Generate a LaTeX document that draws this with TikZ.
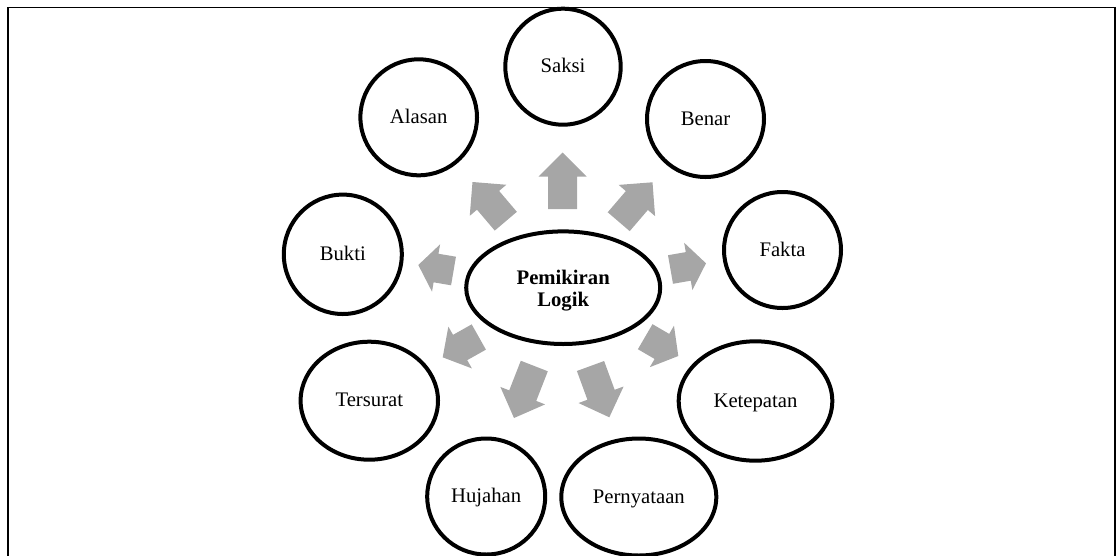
\documentclass[tikz,border=0pt]{standalone}
\usepackage{fontspec}
\setmainfont{Liberation Serif}
\usetikzlibrary{shapes.geometric,calc}

\definecolor{arrowgrey}{RGB}{166,166,166}

% Block arrow from the middle of its tail (#1) to its tip (#2); #3 is the head length.
\newcommand\blockarrow[3]{%
  \coordinate (#2-hb) at ($(#2)!#3!(#1)$);
  \fill[arrowgrey]
    ($(#1)!14.5pt!90:(#2)$) -- ($(#2-hb)!14.5pt!90:(#2)$) --
    ($(#2-hb)!24pt!90:(#2)$) -- (#2) -- ($(#2-hb)!24pt!-90:(#2)$) --
    ($(#2-hb)!14.5pt!-90:(#2)$) -- ($(#1)!14.5pt!-90:(#2)$) -- cycle;}

\tikzset{
  bubble/.style={ellipse, draw=black, line width=4pt, inner sep=0pt,
    font=\fontsize{20.7}{22}\selectfont, text height=15pt, text depth=3pt},
  hub/.style={ellipse, draw=black, line width=4pt, inner sep=0pt},
  hubtext/.style={inner sep=0pt, align=center,
    font=\fontsize{20.7}{22}\selectfont\bfseries},
}

\begin{document}
\begin{tikzpicture}[x=1pt, y=-1pt]
\useasboundingbox (0,0) rectangle (1116,555);

% frame (open at the bottom)
\draw[line width=1.6pt] (8,7.5) -- (1114.8,7.5) -- (1114.8,560);
\draw[line width=2.6pt] (8,560) -- (8,6.7);

% central idea
\node[hub, minimum width=194pt, minimum height=112.6pt] (logik) at (563.2,287.7) {};
\node[hubtext] (logik-text) at ($(logik.center)+(0,3)$) {Pemikiran\\Logik};

% surrounding ideas
\node[bubble, minimum width=115.4pt, minimum height=116pt] (saksi) at (563,66.7) {Saksi};
\node[bubble, minimum width=116.6pt, minimum height=116pt] (alasan) at (418.7,117.3) {Alasan};
\node[bubble, minimum width=117pt, minimum height=116pt] (benar) at (705.5,119) {Benar};
\node[bubble, minimum width=117pt, minimum height=116pt] (fakta) at (782.5,250) {Fakta};
\node[bubble, minimum width=118pt, minimum height=119.4pt] (bukti) at (342.8,254.3) {Bukti};
\node[bubble, minimum width=137.4pt, minimum height=118pt] (tersurat) at (369.3,400.7) {Tersurat};
\node[bubble, minimum width=153.6pt, minimum height=119.4pt] (ketepatan) at (755.5,401) {Ketepatan};
\node[bubble, minimum width=118pt, minimum height=116pt] (hujahan) at (486.2,496.5) {Hujahan};
\node[bubble, minimum width=155pt, minimum height=117pt] (pernyataan) at (638.8,497) {Pernyataan};

% arrow tails and tips
\coordinate (s1) at (562.5,209);   \coordinate (t1) at (562.5,152.5);
\coordinate (s2) at (505.8,221.2); \coordinate (t2) at (472.5,182);
\coordinate (s3) at (618.7,221.7); \coordinate (t3) at (652.5,182.3);
\coordinate (s4) at (453.5,271);   \coordinate (t4) at (418.3,265);
\coordinate (s5) at (670.5,269.5); \coordinate (t5) at (706,263.3);
\coordinate (s6) at (478.8,337);   \coordinate (t6) at (442.7,357.3);
\coordinate (s7) at (645.2,336.7); \coordinate (t7) at (678.3,356);
\coordinate (s8) at (534.3,366);   \coordinate (t8) at (514,418);
\coordinate (s9) at (590.5,366);   \coordinate (t9) at (609.3,417.3);

\blockarrow{s1}{t1}{24pt}
\blockarrow{s2}{t2}{24pt}
\blockarrow{s3}{t3}{24pt}
\blockarrow{s4}{t4}{18pt}
\blockarrow{s5}{t5}{18pt}
\blockarrow{s6}{t6}{20pt}
\blockarrow{s7}{t7}{19pt}
\blockarrow{s8}{t8}{24pt}
\blockarrow{s9}{t9}{24pt}
\end{tikzpicture}
\end{document}
